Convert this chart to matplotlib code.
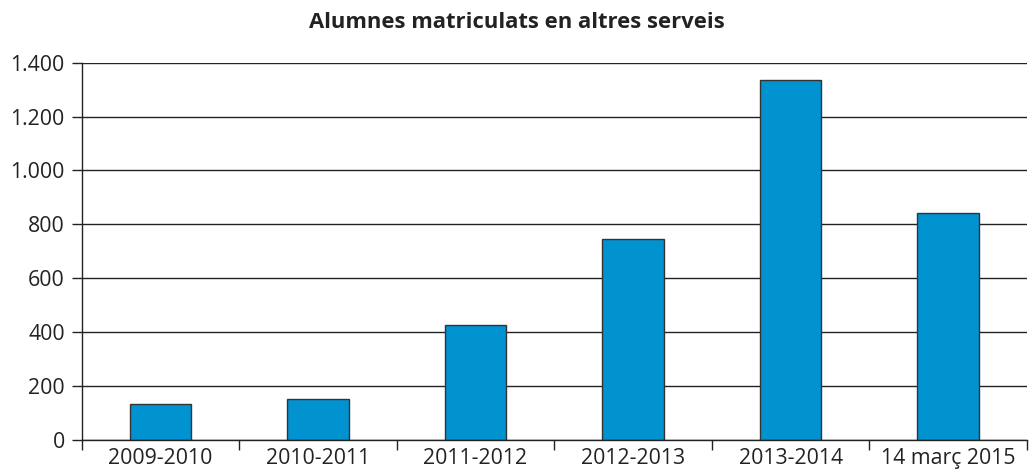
import matplotlib
matplotlib.use("Agg")
import matplotlib.pyplot as plt
from matplotlib.ticker import FuncFormatter, FixedLocator
import numpy as np

categories = ["2009-2010", "2010-2011", "2011-2012", "2012-2013", "2013-2014", "14 març 2015"]
values = [135, 152, 425, 746, 1335, 844]
yticks = [0, 200, 400, 600, 800, 1000, 1200, 1400]
title = "Alumnes matriculats en altres serveis"

plt.rcParams['font.family'] = ['Open Sans', 'DejaVu Sans']

fig = plt.figure(figsize=(10.33, 4.75), dpi=100)
ax = fig.add_axes([0.0789, 0.0737, 0.9153, 0.7943])

x = np.arange(len(categories))
ax.bar(x, values, width=0.39, color="#0093D0", edgecolor="#333333", linewidth=1.0, zorder=3)

ax.set_xlim(-0.5, len(categories) - 0.5)
ax.set_ylim(0, 1400)
ax.set_yticks(yticks)
ax.yaxis.set_major_formatter(FuncFormatter(lambda v, p: f"{int(v):,}".replace(",", ".")))
ax.grid(axis='y', color="#222222", linewidth=1.0, zorder=1)

ax.set_xticks(x)
ax.set_xticklabels(categories, fontsize=15.3, color="#222222")
ax.tick_params(axis='x', which='major', length=0, pad=6)
ax.xaxis.set_minor_locator(FixedLocator(np.arange(-0.5, len(categories), 1.0)))
ax.tick_params(axis='x', which='minor', length=7, width=1, color="#222222", direction='out')
ax.tick_params(axis='y', length=7, width=1, color="#222222", labelsize=15.3, labelcolor="#222222", pad=5)

for s in ['top', 'right']:
    ax.spines[s].set_visible(False)
for s in ['left', 'bottom']:
    ax.spines[s].set_color("#222222")
    ax.spines[s].set_linewidth(1.0)
    ax.spines[s].set_zorder(4)

fig.text(0.5, 0.953, title, ha='center', va='center', fontsize=15.8, fontweight='bold', color="#222222")

fig.savefig("out.png", dpi=100)
